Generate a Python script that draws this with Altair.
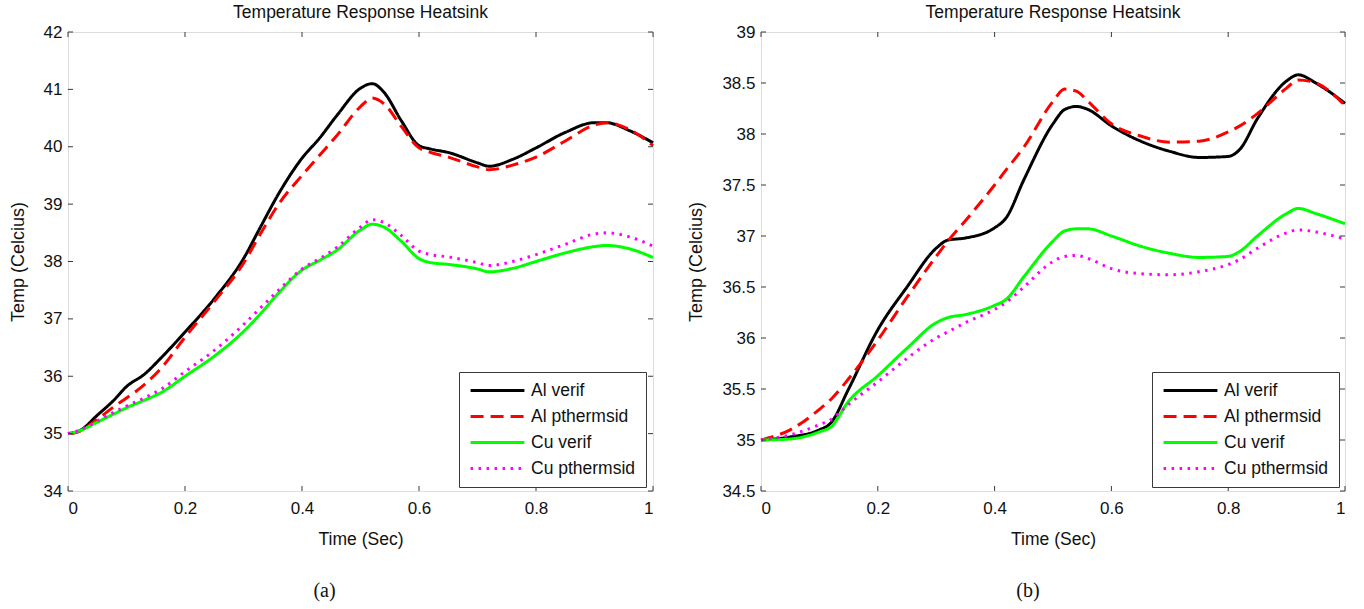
import altair as alt
import pandas as pd

SERIES = ["Al verif", "Al pthermsid", "Cu verif", "Cu pthermsid"]
COLORS = ["#000000", "#ff0000", "#00ff00", "#ff00ff"]
DASHES = [[1, 0], [13, 7], [1, 0], [2.5, 5.5]]

TITLE = "Temperature Response Heatsink"
X_TITLE = "Time (Sec)"
Y_TITLE = "Temp (Celcius)"
CAPTIONS = ["(a)", "(b)"]

X_TICKS = [0, 0.2, 0.4, 0.6, 0.8, 1]
A_Y_TICKS = [34, 35, 36, 37, 38, 39, 40, 41, 42]
B_Y_TICKS = [34.5, 35, 35.5, 36, 36.5, 37, 37.5, 38, 38.5, 39]

# ---- panel (a)
a_t = [0, 0.02, 0.05, 0.08, 0.1, 0.13, 0.16, 0.2, 0.25, 0.3, 0.33, 0.36, 0.4, 0.43, 0.46,
       0.5, 0.52, 0.54, 0.57, 0.6, 0.62, 0.65, 0.7, 0.72, 0.76, 0.8, 0.85, 0.9, 0.92, 0.96, 1.0]
a_al_verif = [35.0, 35.05, 35.32, 35.6, 35.82, 36.03, 36.33, 36.77, 37.35, 38.05, 38.62, 39.18,
              39.8, 40.15, 40.55, 41.02, 41.1, 40.95, 40.45, 40.02, 39.96, 39.9, 39.72, 39.66,
              39.78, 39.98, 40.25, 40.42, 40.42, 40.28, 40.07]
a_al_pth = [35.0, 35.04, 35.25, 35.48, 35.62, 35.85, 36.15, 36.68, 37.3, 37.97, 38.5, 39.0,
            39.5, 39.85, 40.2, 40.7, 40.85, 40.75, 40.35, 39.98, 39.9, 39.82, 39.65, 39.6,
            39.68, 39.82, 40.1, 40.38, 40.42, 40.3, 40.02]
a_cu_verif = [35.0, 35.05, 35.2, 35.35, 35.45, 35.58, 35.72, 36.0, 36.35, 36.78, 37.1, 37.45,
              37.85, 38.02, 38.2, 38.55, 38.65, 38.6, 38.35, 38.05, 37.98, 37.95, 37.87, 37.82,
              37.88, 38.0, 38.15, 38.26, 38.28, 38.22, 38.07]
a_cu_pth = [35.0, 35.06, 35.22, 35.38, 35.48, 35.62, 35.78, 36.08, 36.45, 36.9, 37.2, 37.5,
            37.87, 38.05, 38.25, 38.6, 38.73, 38.68, 38.45, 38.18, 38.12, 38.08, 37.98, 37.93,
            38.0, 38.12, 38.3, 38.48, 38.5, 38.43, 38.27]

# ---- panel (b)
b_t = [0, 0.05, 0.1, 0.12, 0.15, 0.2, 0.25, 0.3, 0.32, 0.35, 0.4, 0.42, 0.45, 0.5, 0.52, 0.54,
       0.56, 0.6, 0.65, 0.7, 0.75, 0.8, 0.82, 0.85, 0.9, 0.92, 0.95, 1.0]
b_al_verif = [35.0, 35.03, 35.1, 35.17, 35.5, 36.08, 36.5, 36.88, 36.96, 36.98, 37.08, 37.18,
              37.55, 38.1, 38.24, 38.27, 38.24, 38.08, 37.93, 37.83, 37.77, 37.78, 37.85, 38.15,
              38.52, 38.58, 38.5, 38.3]
b_al_pth = [35.0, 35.1, 35.3, 35.4, 35.6, 35.98, 36.4, 36.8, 36.95, 37.15, 37.5, 37.65, 37.87,
            38.32, 38.44, 38.42, 38.32, 38.1, 37.98, 37.92, 37.93, 38.02, 38.08, 38.2, 38.45,
            38.53, 38.5, 38.28]
b_cu_verif = [35.0, 35.01, 35.08, 35.13, 35.38, 35.63, 35.9, 36.15, 36.2, 36.23, 36.32, 36.38,
              36.6, 36.95, 37.05, 37.07, 37.07, 37.0, 36.9, 36.83, 36.79, 36.8, 36.85, 37.0,
              37.22, 37.27, 37.22, 37.12]
b_cu_pth = [35.0, 35.05, 35.15, 35.2, 35.35, 35.57, 35.8, 36.0, 36.06, 36.15, 36.28, 36.35,
            36.5, 36.75, 36.8, 36.81, 36.78, 36.68, 36.63, 36.62, 36.65, 36.72, 36.77, 36.88,
            37.03, 37.06, 37.04, 36.97]

FONT = "Liberation Sans"
W_A, W_B, H = 585, 584, 459
TICK_LEN = 5
BOX = "#3a3a3a"
TXT = "#111111"


def long_df(t, cols):
    rows = []
    for name, vals in zip(SERIES, cols):
        for i, (tt, vv) in enumerate(zip(t, vals)):
            rows.append({"t": tt, "temp": vv, "series": name, "order": i})
    return pd.DataFrame(rows)


def make_legend():
    return alt.Legend(
        title=None, orient="none", legendX=391, legendY=340, symbolType="stroke",
        symbolSize=2900, symbolStrokeWidth=3, clipHeight=17, rowPadding=8,
        labelFont=FONT, labelFontSize=17.5, labelColor=TXT, labelOffset=5,
        padding=10, fillColor="white", strokeColor=BOX, cornerRadius=0)


def panel(t, cols, y_dom, y_ticks, width, caption, cap_dx):
    df = long_df(t, cols)
    xs = alt.Scale(domain=[0, 1], nice=False, zero=False)
    ys = alt.Scale(domain=y_dom, nice=False, zero=False)
    x_axis = alt.Axis(
        values=X_TICKS, format="~g", title=X_TITLE, ticks=False, domain=False, grid=False,
        labelPadding=9, titlePadding=14, labelFontSize=17, titleFontSize=17.5,
        labelFont=FONT, titleFont=FONT, titleFontWeight="normal",
        labelColor=TXT, titleColor=TXT)
    y_axis = alt.Axis(
        values=y_ticks, format="~g", title=Y_TITLE, ticks=False, domain=False, grid=False,
        labelPadding=6, titlePadding=16, labelFontSize=17, titleFontSize=18,
        labelFont=FONT, titleFont=FONT, titleFontWeight="normal",
        labelColor=TXT, titleColor=TXT)

    lines = alt.Chart(df).mark_line(strokeWidth=3, interpolate="monotone", strokeCap="butt").encode(
        x=alt.X("t:Q", scale=xs, axis=x_axis, title=X_TITLE),
        y=alt.Y("temp:Q", scale=ys, axis=y_axis, title=Y_TITLE),
        color=alt.Color("series:N", scale=alt.Scale(domain=SERIES, range=COLORS), legend=make_legend()),
        strokeDash=alt.StrokeDash("series:N", scale=alt.Scale(domain=SERIES, range=DASHES),
                                  legend=make_legend()),
        order="order:Q",
    )

    ydf = pd.DataFrame({"v": y_ticks})
    xdf = pd.DataFrame({"v": X_TICKS})
    ytick_l = alt.Chart(ydf).mark_rule(color=BOX, strokeWidth=1).encode(
        y=alt.Y("v:Q", scale=ys, axis=y_axis, title=Y_TITLE), x=alt.value(0), x2=alt.value(TICK_LEN))
    ytick_r = alt.Chart(ydf).mark_rule(color=BOX, strokeWidth=1).encode(
        y=alt.Y("v:Q", scale=ys, axis=y_axis, title=Y_TITLE), x=alt.value(width - TICK_LEN), x2=alt.value(width))
    xtick_b = alt.Chart(xdf).mark_rule(color=BOX, strokeWidth=1).encode(
        x=alt.X("v:Q", scale=xs, axis=x_axis, title=X_TITLE), y=alt.value(H - TICK_LEN), y2=alt.value(H))
    xtick_t = alt.Chart(xdf).mark_rule(color=BOX, strokeWidth=1).encode(
        x=alt.X("v:Q", scale=xs, axis=x_axis, title=X_TITLE), y=alt.value(0), y2=alt.value(TICK_LEN))

    cap = alt.Chart(pd.DataFrame({"c": [caption]})).mark_text(
        font="Liberation Serif", fontSize=20, color=TXT, align="center", baseline="middle"
    ).encode(text="c:N", x=alt.value(width / 2 + cap_dx), y=alt.value(H + 100))

    return alt.layer(lines, ytick_l, ytick_r, xtick_b, xtick_t, cap).properties(
        width=width, height=H,
        title=alt.TitleParams(TITLE, font=FONT, fontSize=17.5, fontWeight="normal",
                              color=TXT, offset=2, anchor="middle"),
    )


pa = panel(a_t, [a_al_verif, a_al_pth, a_cu_verif, a_cu_pth], [34, 42], A_Y_TICKS, W_A, CAPTIONS[0], -36)
pb = panel(b_t, [b_al_verif, b_al_pth, b_cu_verif, b_cu_pth], [34.5, 39], B_Y_TICKS, W_B, CAPTIONS[1], -25)

chart = alt.hconcat(pa, pb, spacing=27).resolve_scale(
    color="independent", strokeDash="independent", x="independent", y="independent"
).resolve_legend(color="independent", strokeDash="independent").properties(
    padding={"left": 8, "top": 3, "right": 5, "bottom": 2}
).configure_view(stroke=BOX, strokeWidth=1).configure(background="white")

chart.save("out.html", embed_options={"renderer": "svg", "actions": False})
